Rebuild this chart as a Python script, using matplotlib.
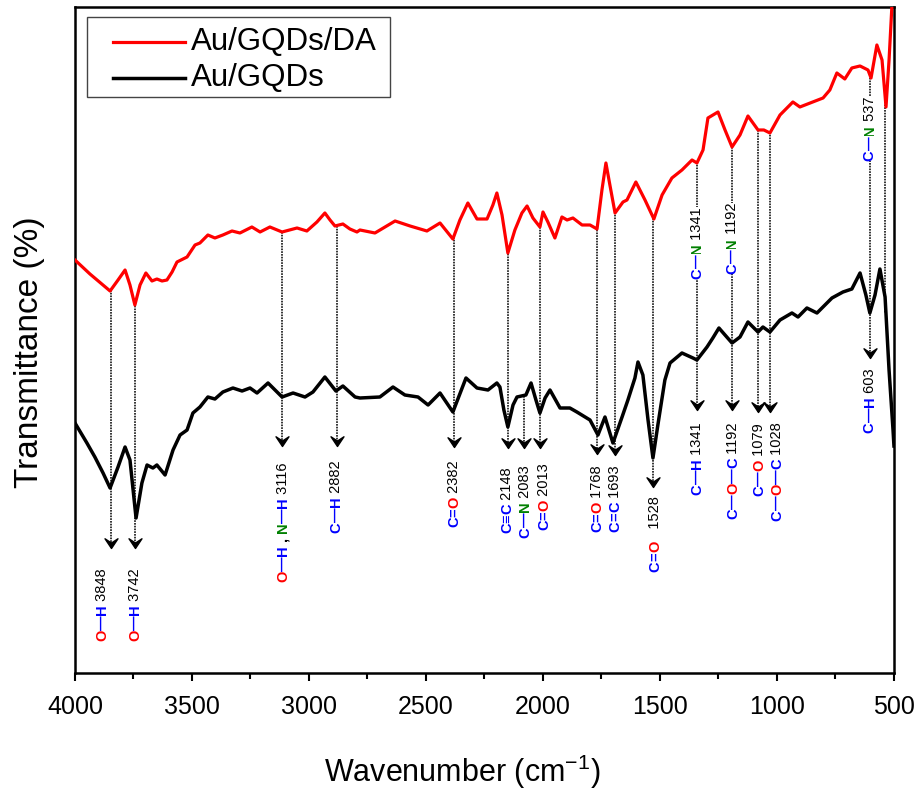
import matplotlib
matplotlib.use("Agg")
import matplotlib.pyplot as plt
import numpy as np
from matplotlib.path import Path
from matplotlib.lines import Line2D
from matplotlib.patches import Rectangle
from matplotlib.ticker import MultipleLocator

plt.rcParams['font.family'] = ['Liberation Sans', 'DejaVu Sans']
plt.rcParams['mathtext.fontset'] = 'custom'
plt.rcParams['mathtext.rm'] = 'Liberation Sans'

# Au/GQDs/DA spectrum (arbitrary transmittance units, curves are offset)
wn_da = [4000, 3936, 3850, 3816, 3786, 3765, 3744, 3722, 3697, 3671,
         3650, 3628, 3607, 3585, 3564, 3521, 3487, 3466, 3432, 3402,
         3368, 3329, 3295, 3244, 3209, 3167, 3115, 3051, 3009, 2966,
         2932, 2910, 2889, 2855, 2825, 2795, 2782, 2718, 2632, 2568,
         2496, 2440, 2385, 2355, 2321, 2282, 2239, 2214, 2197, 2175,
         2150, 2120, 2090, 2068, 2043, 2013, 2000, 1979, 1949, 1919,
         1897, 1872, 1833, 1799, 1769, 1748, 1731, 1714, 1692, 1658,
         1641, 1603, 1564, 1526, 1491, 1449, 1406, 1363, 1342, 1316,
         1295, 1252, 1222, 1192, 1158, 1124, 1081, 1056, 1030, 987,
         932, 902, 803, 774, 744, 710, 680, 645, 611, 598,
         573, 551, 534, 521, 509, 500]
t_da = [392, 378, 361, 372, 382, 367, 347, 367, 379, 371,
        373, 371, 372, 380, 390, 395, 407, 409, 417, 414,
        417, 421, 419, 425, 420, 425, 420, 424, 421, 430,
        439, 432, 426, 428, 423, 420, 422, 419, 431, 426,
        421, 429, 413, 432, 449, 433, 433, 447, 459, 437,
        399, 422, 439, 446, 434, 425, 440, 430, 414, 435,
        432, 434, 427, 427, 423, 462, 489, 467, 439, 450,
        452, 470, 452, 433, 457, 474, 482, 492, 489, 502,
        534, 540, 522, 505, 517, 536, 522, 522, 519, 537,
        550, 545, 554, 562, 579, 573, 584, 586, 582, 574,
        607, 592, 545, 592, 645, 680]

# Au/GQDs spectrum
wn_gq = [4000, 3949, 3915, 3880, 3850, 3816, 3786, 3765, 3739, 3714,
         3692, 3667, 3650, 3615, 3581, 3551, 3521, 3496, 3466, 3432,
         3402, 3368, 3325, 3286, 3252, 3222, 3175, 3115, 3068, 3017,
         2983, 2932, 2885, 2855, 2803, 2782, 2697, 2641, 2590, 2534,
         2491, 2440, 2385, 2329, 2282, 2235, 2197, 2184, 2167, 2150,
         2128, 2111, 2073, 2051, 2030, 2013, 1991, 1970, 1927, 1885,
         1855, 1799, 1765, 1735, 1701, 1662, 1637, 1607, 1594, 1573,
         1551, 1530, 1509, 1479, 1457, 1406, 1359, 1342, 1299, 1274,
         1248, 1222, 1192, 1158, 1124, 1081, 1060, 1030, 987, 936,
         910, 872, 829, 765, 718, 680, 645, 620, 603, 581,
         560, 538, 521, 504, 500]
t_gq = [229, 209, 195, 179, 164, 185, 205, 192, 134, 169,
        187, 184, 187, 177, 202, 217, 222, 239, 245, 255,
        253, 260, 264, 261, 264, 259, 269, 255, 259, 255,
        260, 275, 261, 266, 255, 254, 255, 265, 257, 255,
        247, 259, 240, 274, 264, 262, 269, 265, 242, 225,
        247, 255, 257, 269, 252, 239, 254, 262, 244, 244,
        240, 232, 217, 235, 209, 235, 252, 274, 290, 277,
        232, 194, 227, 272, 289, 299, 294, 292, 305, 314,
        324, 317, 309, 315, 330, 320, 325, 320, 332, 339,
        335, 344, 339, 354, 360, 363, 379, 357, 339, 357,
        383, 355, 282, 222, 206]

# band assignments
peak_wn = [3848, 3742, 3116, 2882, 2382, 2148, 2083, 2013, 1768, 1693,
           1528, 1341, 1192, 1079, 1028, 603]
peak_bond = ['O—H', 'O—H', 'O—H , N—H', 'C—H', 'C=O', 'C≡C', 'C—N', 'C=O',
             'C=O', 'C=C', 'C=O', 'C—H', 'C—O—C', 'C—O', 'C—O—C', 'C—H']
peak_num = ['3848', '3742', '3116', '2882', '2382', '2148', '2083', '2013',
            '1768', '1693', '  1528', '1341', '1192', '1079', '1028', '603']
# assignments written on the Au/GQDs/DA lines
mid_wn = [1341, 1192, 603]
mid_bond = ['C—N', 'C—N', 'C—N']
mid_num = ['1341', '1192', '537']

series_names = ['Au/GQDs/DA', 'Au/GQDs']

# layout of the annotations
line_from = ['da'] * 16
line_from[6] = 'gq'
tip_y = [104, 104, 206, 206, 205, 204, 204, 204, 198, 197, 165, 242, 242, 240, 240, 294]
lab_x = [3885, 3744, 3111, 2885, 2380, 2154, 2077, 1996, 1769, 1692, 1521, 1341, 1188, 1077, 1000, 603]
lab_top = [84, 84, 190, 192, 192, 185, 187, 189, 187, 187, 156, 230, 230, 229, 230, 284]
mid_top = [445, 449, 555]

RED = '#ff0000'
BLUE = '#0000ff'
GREEN = '#008000'
atom_col = {'C': BLUE, 'H': BLUE, 'O': RED, 'N': GREEN}


def pieces(bond, num):
    out = []
    for ch in bond:
        if ch in atom_col:
            out.append((ch, atom_col[ch], 'bold'))
        elif ch in '—=≡':
            out.append((ch, BLUE, 'bold'))
        else:
            out.append((ch, 'black', 'bold'))
    out.append((' ' + num, 'black', 'normal'))
    return out


def vlabel(ax, x, ytop, parts, bg=False):
    # stacked rotated text, read bottom to top, placed from the top down
    prev = None
    for s, c, w in reversed(parts):
        kw = dict(rotation=90, ha='center', va='top', color=c,
                  fontsize=10.5, fontweight=w, zorder=5)
        if bg:
            kw['bbox'] = dict(fc='white', ec='none', pad=0)
        if prev is None:
            prev = ax.text(x, ytop, s, **kw)
        else:
            prev = ax.annotate(s, xy=(0.5, 0), xycoords=prev, **kw)


head = Path([(0, 0), (-0.5, 0.75), (0, 0.42), (0.5, 0.75), (0, 0)],
            [Path.MOVETO, Path.LINETO, Path.LINETO, Path.LINETO, Path.CLOSEPOLY])

fig = plt.figure(figsize=(9.2, 7.93), dpi=100)
ax = fig.add_axes([0.0815, 0.1513, 0.8902, 0.8399])

l1, = ax.plot(wn_da, t_da, color=RED, lw=2.3, zorder=3, solid_joinstyle='round')
l2, = ax.plot(wn_gq, t_gq, color='black', lw=2.5, zorder=3, solid_joinstyle='round')

dots = dict(color='black', lw=1.1, ls=(0, (1.1, 0.7)), zorder=2)
da_x, da_y = wn_da[::-1], t_da[::-1]
gq_x, gq_y = wn_gq[::-1], t_gq[::-1]
for i, w in enumerate(peak_wn):
    if line_from[i] == 'da':
        y0 = np.interp(w, da_x, da_y)
    else:
        y0 = np.interp(w, gq_x, gq_y)
    ax.plot([w, w], [y0, tip_y[i]], **dots)
    ax.plot(w, tip_y[i], marker=head, ms=14, color='black', ls='none', zorder=4)
    vlabel(ax, lab_x[i], lab_top[i], pieces(peak_bond[i], peak_num[i]))

for i, w in enumerate(mid_wn):
    vlabel(ax, w, mid_top[i], pieces(mid_bond[i], mid_num[i]), bg=True)

# 537 band: line from the Au/GQDs/DA dip down to the Au/GQDs trace
ax.plot([537, 537], [np.interp(537, da_x, da_y), 339], **dots)

ax.set_xlim(4000, 500)
ax.set_ylim(-21, 645)
ax.set_xticks([4000, 3500, 3000, 2500, 2000, 1500, 1000, 500])
ax.xaxis.set_minor_locator(MultipleLocator(250))
ax.set_yticks([])
ax.tick_params(axis='x', which='major', direction='out', length=6, width=1.5,
               labelsize=18, pad=10)
ax.tick_params(axis='x', which='minor', direction='out', length=4, width=1.5)
for sp in ax.spines.values():
    sp.set_linewidth(1.8)

ax.set_xlabel('Wavenumber (cm$^{-1}$)', fontsize=22)
ax.xaxis.set_label_coords(0.4725, -0.12)
ax.set_ylabel('Transmittance (%)', fontsize=24)
ax.yaxis.set_label_coords(-0.036, 0.482)

# legend box drawn in figure pixels (top-left origin)
W, H = 920, 793
def fx(px):
    return px / W
def fy(py):
    return 1 - py / H

fig.patches.append(Rectangle((fx(87), fy(97)), fx(390) - fx(87), fy(17) - fy(97),
                             transform=fig.transFigure, fill=True, fc='white',
                             ec='#444444', lw=1.0, zorder=6))
for row, (ln, name) in enumerate(zip([l1, l2], series_names)):
    yy = fy(42 + 36 * row)
    fig.lines.append(Line2D([fx(113), fx(185)], [yy, yy], transform=fig.transFigure,
                            color=ln.get_color(), lw=ln.get_linewidth(), zorder=7))
    fig.text(fx(191), yy, name, fontsize=22.5, va='center', ha='left', zorder=7)

fig.savefig('out.png', dpi=100)
